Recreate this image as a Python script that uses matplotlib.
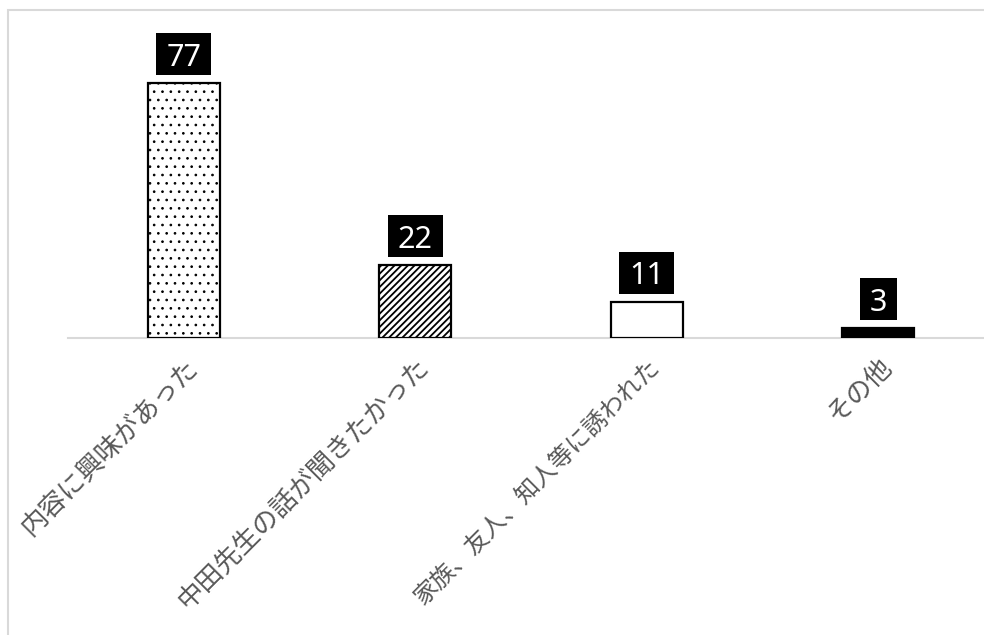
import matplotlib
matplotlib.use("Agg")
import matplotlib.pyplot as plt
import matplotlib.patches as mpatches
import matplotlib.transforms as mtransforms

plt.rcParams['font.family'] = ['Noto Sans CJK JP', 'DejaVu Sans']

# ---------------------------
# Data
# ---------------------------
categories = ["内容に興味があった", "中田先生の話が聞きたかった",
              "家族、友人、知人等に誘われた", "その他"]
counts = [77, 22, 11, 3]
face_colors = ["white", "white", "white", "black"]
hatches = ["..", "/////", "", ""]
hatch_widths = [0.7, 1.3, 1.0, 1.0]

W, H = 984, 635
fig = plt.figure(figsize=(W / 100, H / 100), dpi=100)

# light grey frame (chart area is cropped on right/bottom)
frame = mpatches.Rectangle((8 / W, -0.1), 1.2, 1 - 10 / H + 0.1,
                           transform=fig.transFigure, fill=False,
                           edgecolor="#d9d9d9", linewidth=1.5)
fig.patches.append(frame)

ax = fig.add_axes([68 / W, (H - 338) / H, 926 / W, 331 / H])
x = list(range(len(categories)))
bars = ax.bar(x, counts, width=0.31, color=face_colors,
              edgecolor="black", linewidth=1.6, zorder=3)
for b, h, hw in zip(bars, hatches, hatch_widths):
    b.set_hatch(h)
    if hasattr(b, "set_hatch_linewidth"):
        b.set_hatch_linewidth(hw)

ax.set_xlim(-0.5, 3.5)
ax.set_ylim(0, 100)
for s in ["top", "right", "left"]:
    ax.spines[s].set_visible(False)
ax.spines["bottom"].set_color("#d9d9d9")
ax.spines["bottom"].set_linewidth(1.5)
ax.spines["bottom"].set_zorder(2)
ax.set_yticks([])
ax.set_xticks(x)
ax.set_xticklabels(categories, rotation=45, ha="right",
                   rotation_mode="anchor", fontsize=19, color="#595959")
ax.tick_params(axis="x", length=0, pad=11)
# the long label uses full-width commas here, so shrink it a little to fit
ax.get_xticklabels()[2].set_fontsize(17.3)

# value labels: white text on black box
texts = []
for i, v in zip(x, counts):
    t = ax.annotate(str(v), (i, v), xytext=(0, 12.6),
                    textcoords="offset points", ha="center", va="baseline",
                    fontsize=22, color="white", family="Noto Sans", zorder=6)
    texts.append(t)

fig.canvas.draw()
r = fig.canvas.get_renderer()
for i, v, t in zip(x, counts, texts):
    bb = t.get_window_extent(r)
    top = ax.transData.transform((i, v))[1]
    box = mpatches.Rectangle((bb.x0 - 10, top + 8), bb.width + 20, 42,
                             transform=mtransforms.IdentityTransform(),
                             facecolor="black", edgecolor="none",
                             zorder=5, clip_on=False)
    ax.add_artist(box)

fig.savefig("out.png", dpi=100)
